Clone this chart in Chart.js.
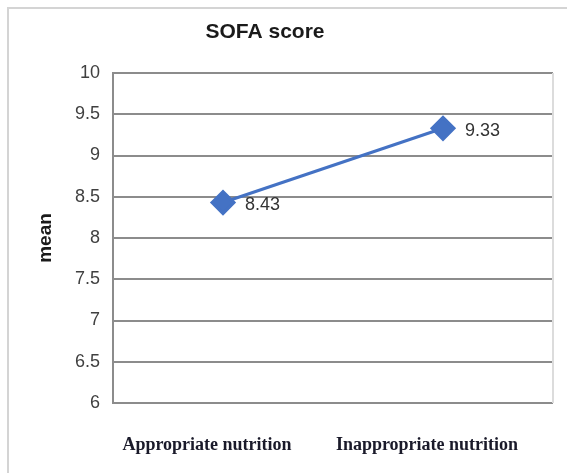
<!DOCTYPE html>
<html>
<head>
<meta charset="utf-8">
<script src="https://cdn.jsdelivr.net/npm/chart.js@4/dist/chart.umd.min.js"></script>
<style>
  html, body { margin: 0; padding: 0; background: #fff; overflow: hidden; }
  canvas { display: block; }
</style>
</head>
<body>
<canvas id="chart" width="567" height="473"></canvas>
<script>
// chart data
const categories = ["Appropriate nutrition", "Inappropriate nutrition"];
const meanValues = [8.43, 9.33];
const valueLabels = ["8.43", "9.33"];
const chartTitle = "SOFA score";
const yTitle = "mean";

const tickFont = "'Liberation Sans', Arial, sans-serif";

// outer frame (only left and top edges show in the original crop)
const framePlugin = {
  id: "outerFrame",
  beforeDraw(chart) {
    const ctx = chart.ctx;
    ctx.save();
    ctx.strokeStyle = "#d4d4d4";
    ctx.lineWidth = 2;
    ctx.beginPath();
    ctx.moveTo(8, chart.height);
    ctx.lineTo(8, 8);
    ctx.lineTo(chart.width, 8);
    ctx.stroke();
    ctx.restore();
  }
};

// title drawn off-center like the original
const titlePlugin = {
  id: "sofaTitle",
  afterDraw(chart) {
    const ctx = chart.ctx;
    ctx.save();
    ctx.font = "bold 21px " + tickFont;
    ctx.fillStyle = "#1a1a1a";
    ctx.textAlign = "center";
    ctx.textBaseline = "middle";
    ctx.fillText(chartTitle, 265, 32);
    ctx.restore();
  }
};

// value labels next to each marker
const valueLabelPlugin = {
  id: "valueLabels",
  afterDatasetsDraw(chart) {
    const ctx = chart.ctx;
    const meta = chart.getDatasetMeta(0);
    ctx.save();
    ctx.font = "18px " + tickFont;
    ctx.fillStyle = "#333";
    ctx.textAlign = "left";
    ctx.textBaseline = "middle";
    meta.data.forEach((pt, i) => {
      ctx.fillText(valueLabels[i], pt.x + 22, pt.y + 3);
    });
    ctx.restore();
  }
};

// light right edge of the plot box
const plotEdge = {
  id: "plotEdge",
  beforeDatasetsDraw(chart) {
    const { ctx, chartArea } = chart;
    ctx.save();
    ctx.strokeStyle = "#dcdcdc";
    ctx.lineWidth = 2;
    ctx.beginPath();
    ctx.moveTo(chartArea.right, chartArea.top);
    ctx.lineTo(chartArea.right, chartArea.bottom);
    ctx.stroke();
    ctx.restore();
  }
};

new Chart(document.getElementById("chart"), {
  type: "line",
  data: {
    labels: categories,
    datasets: [{
      data: meanValues,
      borderColor: "#4472c4",
      backgroundColor: "#4472c4",
      borderWidth: 3,
      pointStyle: "rectRot",
      pointRadius: 11,
      pointHoverRadius: 11,
      tension: 0
    }]
  },
  options: {
    responsive: false,
    animation: false,
    layout: { padding: { left: 0, right: 14, top: 73, bottom: 0 } },
    plugins: {
      legend: { display: false },
      title: { display: false },
      tooltip: { enabled: false }
    },
    scales: {
      x: {
        offset: true,
        grid: { display: false },
        border: { display: false },
        ticks: {
          padding: 24,
          color: "#1a1a2a",
          font: { family: "'Liberation Serif', 'Times New Roman', serif", size: 18, weight: "bold" },
          maxRotation: 0,
          labelOffset: -16
        },
        afterFit(scale) { scale.height = 70; }
      },
      y: {
        min: 6,
        max: 10,
        ticks: {
          stepSize: 0.5,
          padding: 13,
          color: "#404040",
          font: { family: tickFont, size: 18 },
          callback: (v) => String(v)
        },
        grid: { color: "#8c8c8c", lineWidth: 2, drawTicks: false },
        border: { display: true, color: "#8c8c8c", width: 2 },
        title: {
          display: true,
          text: yTitle,
          color: "#1a1a1a",
          font: { family: tickFont, size: 19, weight: "bold" },
          padding: { top: 34, bottom: 0 }
        },
        afterFit(scale) { scale.width = 113; }
      }
    }
  },
  plugins: [framePlugin, titlePlugin, valueLabelPlugin, plotEdge]
});
</script>
</body>
</html>
